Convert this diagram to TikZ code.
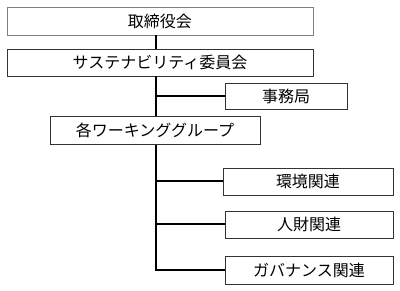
\documentclass[tikz,border=0pt]{standalone}
\usepackage{fontspec}
\setmainfont{Noto Sans CJK JP}
\usetikzlibrary{calc}
\tikzstyle{unit} = [rectangle, minimum height=27pt, inner sep=0pt, text centered, draw=black!80, line width=0.8pt, fill=white, font=\fontsize{16}{18}\selectfont]
\tikzstyle{top} = [unit, draw=black!50]
\tikzstyle{link} = [line width=2pt]

\begin{document}
\begin{tikzpicture}[x=1pt, y=-1pt]
      \useasboundingbox (0,0) rectangle (400,291);
      \coordinate (spine) at (155.5,0);
      \node (board)[top, minimum width=306pt, minimum height=28pt] at (160,21) {取締役会};
      \node (committee)[unit, minimum width=306pt] at (160,62.5) {サステナビリティ委員会};
      \node (office)[unit, minimum width=122pt, minimum height=26pt] at (286,96) {事務局};
      \node (wg)[unit, minimum width=210pt, minimum height=28pt] at (155,130.5) {各ワーキンググループ};
      \node (env)[unit, minimum width=170pt] at (308,181.5) {環境関連};
      \node (hr)[unit, minimum width=168pt] at (309,224.5) {人財関連};
      \node (gov)[unit, minimum width=168pt, minimum height=28pt] at (309,270) {ガバナンス関連};
      \draw [link](board.south -| spine)--(committee.north -| spine);
      \draw [link](committee.south -| spine)--(wg.north -| spine);
      \draw [link](spine |- office)--(office.west);
      \draw [link](wg.south -| spine)--(spine |- gov)--(gov.west);
      \draw [link](spine |- env)--(env.west);
      \draw [link](spine |- hr)--(hr.west);
    \end{tikzpicture}
\end{document}
